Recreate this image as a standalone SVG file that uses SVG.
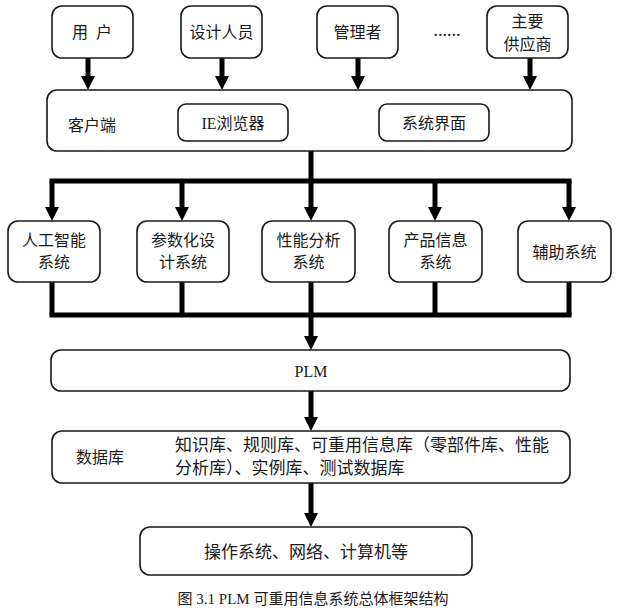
<svg xmlns="http://www.w3.org/2000/svg" width="618" height="612" viewBox="0 0 618 612">
<style>
  .box { fill: #fff; stroke: #1a1a1a; stroke-width: 1.6; }
  .t { font-family: "Liberation Serif", "Noto Sans CJK SC", serif; font-size: 16px; fill: #1a1a1a; dominant-baseline: central; }
  .c { text-anchor: middle; }
  .con { stroke: #000; stroke-width: 5; fill: none; }
  .bar { stroke: #000; stroke-width: 5; stroke-linecap: square; fill: none; }
  .arr { stroke: #000; stroke-width: 5; fill: none; marker-end: url(#ah); }
</style>
<defs>
  <marker id="ah" viewBox="0 0 14 14" refX="2" refY="7" markerWidth="14" markerHeight="14" markerUnits="userSpaceOnUse" orient="auto">
    <path d="M0,0 L14,7 L0,14 z" fill="#000"/>
  </marker>
</defs>
<rect width="618" height="612" fill="#fff"/>

<g id="connectors">
  <line class="arr" x1="88" y1="58" x2="88" y2="78"/>
  <line class="arr" x1="222" y1="58" x2="222" y2="78"/>
  <line class="arr" x1="358" y1="58" x2="358" y2="78"/>
  <line class="arr" x1="530" y1="58" x2="530" y2="78"/>
  <line class="bar" x1="52" y1="181" x2="569" y2="181"/>
  <line class="arr" x1="311" y1="151" x2="311" y2="209"/>
  <line class="arr" x1="52" y1="181" x2="52" y2="209"/>
  <line class="arr" x1="182" y1="181" x2="182" y2="209"/>
  <line class="arr" x1="435" y1="181" x2="435" y2="209"/>
  <line class="arr" x1="569" y1="181" x2="569" y2="209"/>
  <line class="con" x1="52" y1="282" x2="52" y2="315"/>
  <line class="con" x1="182" y1="282" x2="182" y2="315"/>
  <line class="con" x1="435" y1="282" x2="435" y2="315"/>
  <line class="con" x1="569" y1="282" x2="569" y2="315"/>
  <line class="bar" x1="52" y1="315" x2="569" y2="315"/>
  <line class="arr" x1="311" y1="282" x2="311" y2="338"/>
  <line class="arr" x1="311" y1="391" x2="311" y2="419"/>
  <line class="arr" x1="311" y1="483" x2="311" y2="515"/>
</g>

<g id="user">
  <rect class="box" x="52" y="6" width="81" height="52" rx="10"/>
  <text class="t c" y="32"><tspan x="80">用</tspan><tspan x="104">户</tspan></text>
</g>
<g id="designer">
  <rect class="box" x="181" y="6" width="81" height="52" rx="10"/>
  <text class="t c" x="221.5" y="32">设计人员</text>
</g>
<g id="manager">
  <rect class="box" x="317" y="6" width="81" height="52" rx="10"/>
  <text class="t c" x="357.5" y="32">管理者</text>
</g>
<g id="dots">
  <text class="t c" x="447" y="30" style="font-size:18px">......</text>
</g>
<g id="supplier">
  <rect class="box" x="487" y="6" width="81" height="52" rx="10"/>
  <text class="t c" x="527.5" y="21">主要</text>
  <text class="t c" x="527.5" y="44">供应商</text>
</g>

<g id="client">
  <rect class="box" x="47" y="90" width="525" height="61" rx="10"/>
  <text class="t" x="68" y="125">客户端</text>
</g>
<g id="ie">
  <rect class="box" x="178" y="104" width="110" height="37" rx="8"/>
  <text class="t c" x="233" y="123">IE浏览器</text>
</g>
<g id="ui">
  <rect class="box" x="379" y="104" width="110" height="37" rx="8"/>
  <text class="t c" x="434" y="123">系统界面</text>
</g>

<g id="ai">
  <rect class="box" x="8" y="221" width="92" height="61" rx="10"/>
  <text class="t c" x="54" y="240">人工智能</text>
  <text class="t c" x="54" y="262">系统</text>
</g>
<g id="param">
  <rect class="box" x="137" y="221" width="92" height="61" rx="10"/>
  <text class="t c" x="183" y="240">参数化设</text>
  <text class="t c" x="183" y="262">计系统</text>
</g>
<g id="perf">
  <rect class="box" x="262" y="221" width="93" height="61" rx="10"/>
  <text class="t c" x="308.5" y="240">性能分析</text>
  <text class="t c" x="308.5" y="262">系统</text>
</g>
<g id="product">
  <rect class="box" x="389" y="221" width="93" height="61" rx="10"/>
  <text class="t c" x="435.5" y="240">产品信息</text>
  <text class="t c" x="435.5" y="262">系统</text>
</g>
<g id="aux">
  <rect class="box" x="518" y="221" width="93" height="61" rx="10"/>
  <text class="t c" x="564.5" y="252">辅助系统</text>
</g>

<g id="plm">
  <rect class="box" x="51" y="350" width="519" height="41" rx="10"/>
  <text class="t c" x="311" y="371">PLM</text>
</g>

<g id="database">
  <rect class="box" x="52" y="431" width="518" height="52" rx="10"/>
  <text class="t" x="76" y="457">数据库</text>
  <text class="t" x="175" y="445" style="font-size:17px">知识库、规则库、可重用信息库（零部件库、性能</text>
  <text class="t" x="175" y="468" style="font-size:17px">分析库）、实例库、测试数据库</text>
</g>

<g id="os">
  <rect class="box" x="140" y="527" width="332" height="48" rx="10"/>
  <text class="t c" x="306" y="552" style="font-size:17px">操作系统、网络、计算机等</text>
</g>

<text class="t c" x="313" y="599" style="font-size:15px">图 3.1 PLM 可重用信息系统总体框架结构</text>
</svg>
